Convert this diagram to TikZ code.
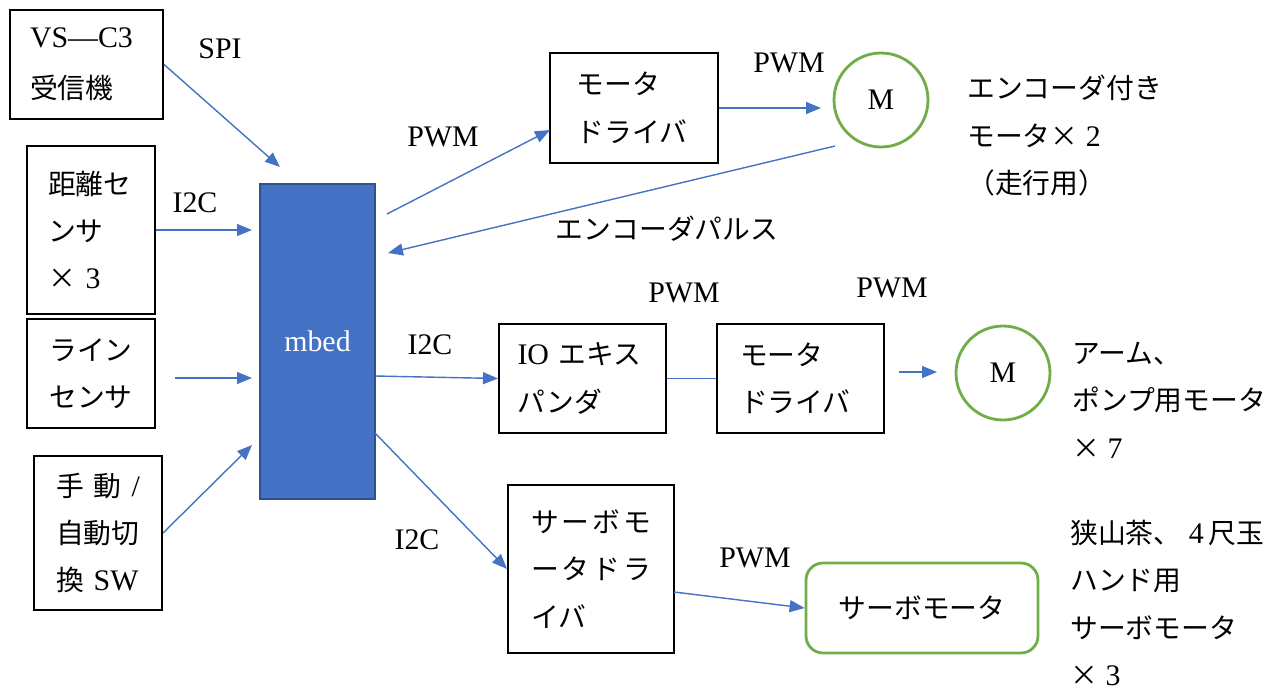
\documentclass[tikz,border=0pt]{standalone}
\usepackage{fontspec}
\setmainfont{Liberation Serif}
\newfontfamily\cjk[Scale=0.93]{Noto Sans CJK JP}
\newcommand\jp[1]{{\cjk #1}}
\usetikzlibrary{arrows.meta}
\definecolor{wordblue}{HTML}{4472C4}
\definecolor{wordgreen}{HTML}{70AD47}
\definecolor{mbededge}{HTML}{2F528F}

\begin{document}
\begin{tikzpicture}[x=0.02cm, y=-0.02cm,
  every node/.style={font=\fontsize{17}{27}\selectfont, inner sep=0pt},
  blk/.style={draw=black, line width=1.2pt, align=left},
  motor/.style={circle, draw=wordgreen, line width=1.6pt, minimum size=1.88cm},
  link/.style={draw=wordblue, line width=0.8pt, -{Triangle[length=0.3cm,width=0.24cm]}},
  wire/.style={draw=wordblue, line width=0.8pt},
  note/.style={anchor=west, align=left}]

\useasboundingbox (0,0) rectangle (1268,690);

% input blocks
\node[blk, minimum width=3.06cm, minimum height=2.18cm, text width=2.26cm] (vs) at (86.5,64.5)
  {VS—C3\\[2pt]\jp{受信機}};
\node[blk, minimum width=2.56cm, minimum height=3.36cm, text width=1.72cm] (dist) at (91,230)
  {\jp{距離セ}\\\jp{ンサ}\\\jp{×} 3};
\node[blk, align=center, minimum width=2.56cm, minimum height=2.18cm] (line) at (91,373.5)
  {\jp{ライン}\\\jp{センサ}};
\node[blk, minimum width=2.56cm, minimum height=3.08cm, text width=1.68cm] (hand) at (98,533)
  {\jp{手}\hfill\jp{動}\hfill/\\\jp{自動切}\\\jp{換} SW};

% controller
\node[fill=wordblue, draw=mbededge, line width=1.2pt, minimum width=2.3cm, minimum height=6.3cm,
      text=white] (mbed) at (317.5,341.5) {mbed};

% output blocks
\node[blk, minimum width=3.36cm, minimum height=2.2cm, text width=2.3cm] (drv1) at (634,108)
  {\jp{モータ}\\\jp{ドライバ}};
\node[motor] (m1) at (881,100) {M};

\node[blk, minimum width=3.34cm, minimum height=2.18cm, text width=2.6cm] (io) at (582.5,378.5)
  {IO~\jp{エキス}\\\jp{パンダ}};
\node[blk, minimum width=3.34cm, minimum height=2.18cm, text width=2.42cm] (drv2) at (800.5,378.5)
  {\jp{モータ}\\\jp{ドライバ}};
\node[motor] (m2) at (1003,373) {M};

\node[blk, minimum width=3.32cm, minimum height=3.36cm, text width=2.4cm] (sdrv) at (591,569)
  {\jp{サ}\hfill\jp{ー}\hfill\jp{ボ}\hfill\jp{モ}\\\jp{ー}\hfill\jp{タ}\hfill\jp{ド}\hfill\jp{ラ}\\\jp{イバ}};
\node[draw=wordgreen, line width=1.6pt, rounded corners=0.34cm, minimum width=4.64cm,
      minimum height=1.8cm] (servo) at (922,608) {\jp{サーボモータ}};

% connector end points
\coordinate (a1) at (280,167);
\coordinate (a2) at (252,230);
\coordinate (l3s) at (175,378);
\coordinate (l3e) at (252,378);
\coordinate (a4) at (252,445);
\coordinate (p5s) at (387,214);
\coordinate (p5e) at (550,130);
\coordinate (p6e) at (821,108);
\coordinate (p7s) at (835,146);
\coordinate (p7e) at (388,253);
\coordinate (p8s) at (375,376);
\coordinate (p10s) at (899,372);
\coordinate (p10e) at (937,372);
\coordinate (p11s) at (375,433);
\coordinate (p12s) at (674,592);

% connectors
\draw[link] (vs.east) -- (a1);
\draw[link] (dist.east) -- (a2);
\draw[link] (l3s) -- (l3e);
\draw[link] (hand.east) -- (a4);
\draw[link] (p5s) -- (p5e);
\draw[link] (drv1.east) -- (p6e);
\draw[link] (p7s) -- (p7e);
\draw[link] (p8s) -- (io.west);
\draw[wire] (io.east) -- (drv2.west);
\draw[link] (p10s) -- (p10e);
\draw[link] (p11s) -- (sdrv.west);
\draw[link] (p12s) -- (servo.west);

% connector labels
\node (tSPI) at (220,49) {SPI};
\node (tI2Ca) at (195,203) {I2C};
\node (tPWMa) at (443,137) {PWM};
\node (tPWMb) at (789,63) {PWM};
\node (tEnc) at (667,229) {\jp{エンコーダパルス}};
\node (tI2Cb) at (430,345) {I2C};
\node (tPWMc) at (684,293) {PWM};
\node (tPWMd) at (892,288) {PWM};
\node (tI2Cc) at (417,540) {I2C};
\node (tPWMe) at (755,558) {PWM};

% notes
\node[note] (n1) at (967,136) {\jp{エンコーダ付き}\\\jp{モータ×}~2\\\jp{（走行用）}};
\node[note] (n2) at (1072,400) {\jp{アーム、}\\\jp{ポンプ用モータ}\\\jp{×} 7};
\node[note] (n3) at (1070,603) {\jp{狭山茶、}~4\,\jp{尺玉}\\\jp{ハンド用}\\\jp{サーボモータ}\\\jp{×} 3};
\end{tikzpicture}
\end{document}
